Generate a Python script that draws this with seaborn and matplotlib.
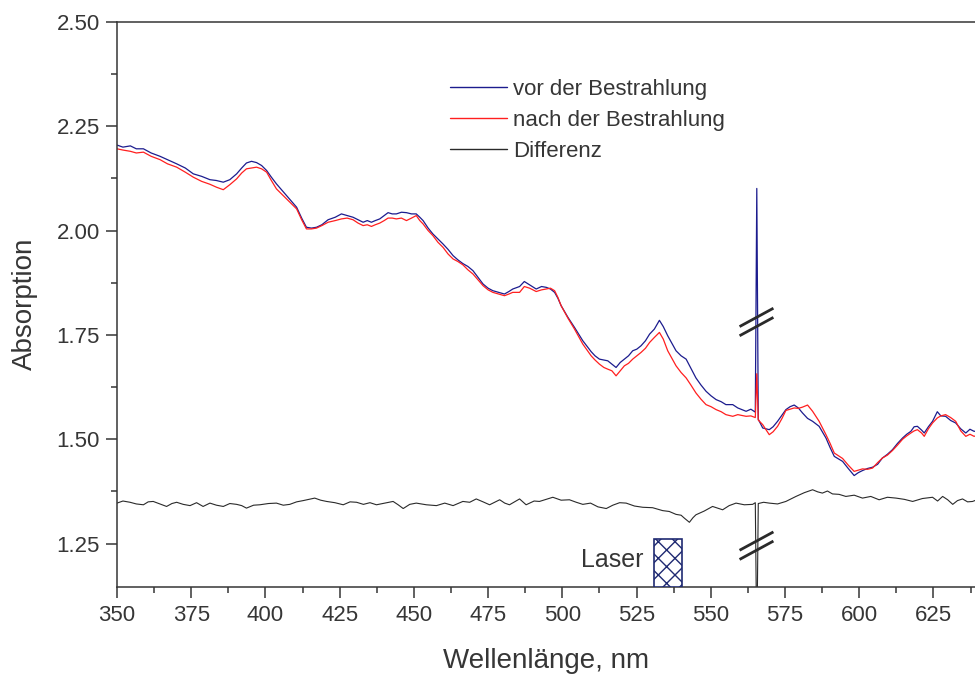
import numpy as np
import pandas as pd
import matplotlib
matplotlib.use("Agg")
import matplotlib.pyplot as plt
import seaborn as sns
from matplotlib.ticker import MultipleLocator, FormatStrFormatter

# ---------------- data ----------------
wavelength = [
    350.0, 352.0, 354.5, 356.5, 358.9, 361.5, 364.5, 367.0, 370.1, 373.0,
    375.7, 378.5, 381.3, 383.5, 385.8, 388.0, 390.3, 392.0, 393.6, 395.3,
    397.0, 398.7, 400.4, 402.0, 403.7, 405.4, 407.1, 408.8, 410.5, 412.2,
    413.8, 415.5, 417.2, 419.0, 421.1, 423.5, 425.6, 427.5, 429.5, 431.2,
    432.9, 434.3, 435.7, 437.0, 438.5, 440.0, 441.3, 442.7, 444.1, 445.8,
    447.5, 449.2, 450.8, 452.0, 453.1, 454.8, 456.4, 458.1, 459.8, 461.5,
    463.2, 464.8, 466.5, 468.2, 469.9, 471.6, 473.3, 475.0, 476.6, 478.5,
    480.5, 482.0, 483.3, 485.6, 487.2, 489.0, 491.2, 493.0, 494.6, 496.0,
    497.4, 498.5, 499.6, 501.9, 504.1, 506.9, 509.7, 511.0, 512.5, 514.0,
    515.3, 516.7, 518.1, 519.5, 520.9, 522.3, 523.7, 525.1, 526.5, 528.0,
    529.4, 531.0, 532.7, 534.0, 535.5, 536.9, 538.3, 540.0, 541.7, 543.3,
    545.0, 546.7, 548.4, 550.1, 551.8, 553.5, 555.1, 557.4, 559.1, 561.9,
    563.5, 565.0, 565.5, 566.0, 567.5, 569.7, 571.0, 572.5, 574.0, 575.3,
    576.7, 578.1, 579.5, 580.9, 582.6, 584.3, 586.5, 588.8, 590.2, 591.6,
    594.4, 596.3, 598.3, 599.7, 601.1, 602.8, 604.5, 606.2, 607.8, 609.5,
    611.2, 612.9, 614.6, 616.0, 617.4, 618.5, 619.6, 621.0, 621.9, 623.3,
    624.7, 626.3, 627.5, 629.1, 630.8, 632.5, 634.2, 635.9, 637.3, 638.7,
    640.0,
]
vor_bestrahlung = [
    2.205, 2.200, 2.203, 2.196, 2.196, 2.186, 2.178, 2.170, 2.160, 2.150,
    2.136, 2.130, 2.122, 2.120, 2.116, 2.122, 2.136, 2.150, 2.162, 2.166,
    2.163, 2.156, 2.144, 2.128, 2.112, 2.098, 2.084, 2.070, 2.056, 2.030,
    2.008, 2.006, 2.008, 2.014, 2.026, 2.032, 2.040, 2.036, 2.032, 2.026,
    2.020, 2.024, 2.020, 2.024, 2.028, 2.036, 2.043, 2.040, 2.040, 2.044,
    2.043, 2.040, 2.040, 2.032, 2.024, 2.006, 1.992, 1.980, 1.968, 1.955,
    1.940, 1.930, 1.921, 1.914, 1.904, 1.888, 1.872, 1.862, 1.856, 1.852,
    1.848, 1.854, 1.860, 1.866, 1.878, 1.870, 1.860, 1.866, 1.864, 1.860,
    1.852, 1.838, 1.820, 1.792, 1.768, 1.736, 1.710, 1.700, 1.692, 1.690,
    1.688, 1.680, 1.672, 1.684, 1.692, 1.700, 1.712, 1.716, 1.724, 1.736,
    1.752, 1.764, 1.785, 1.770, 1.748, 1.730, 1.712, 1.700, 1.692, 1.670,
    1.647, 1.630, 1.615, 1.604, 1.595, 1.590, 1.583, 1.583, 1.575, 1.567,
    1.572, 1.565, 2.101, 1.548, 1.527, 1.523, 1.530, 1.543, 1.558, 1.571,
    1.578, 1.582, 1.575, 1.563, 1.550, 1.543, 1.531, 1.503, 1.480, 1.459,
    1.447, 1.430, 1.413, 1.420, 1.425, 1.430, 1.433, 1.440, 1.455, 1.464,
    1.475, 1.490, 1.503, 1.512, 1.519, 1.530, 1.531, 1.522, 1.515, 1.530,
    1.543, 1.566, 1.556, 1.555, 1.545, 1.539, 1.525, 1.515, 1.524, 1.519,
    1.520,
]
nach_bestrahlung = [
    2.196, 2.193, 2.190, 2.186, 2.188, 2.178, 2.170, 2.160, 2.152, 2.140,
    2.128, 2.118, 2.111, 2.104, 2.098, 2.110, 2.124, 2.138, 2.148, 2.150,
    2.152, 2.148, 2.140, 2.120, 2.100, 2.088, 2.076, 2.064, 2.052, 2.026,
    2.004, 2.004, 2.006, 2.012, 2.020, 2.024, 2.028, 2.030, 2.026, 2.018,
    2.012, 2.014, 2.010, 2.014, 2.018, 2.024, 2.030, 2.030, 2.028, 2.030,
    2.024, 2.030, 2.036, 2.024, 2.016, 2.000, 1.988, 1.972, 1.960, 1.944,
    1.932, 1.926, 1.918, 1.906, 1.896, 1.882, 1.868, 1.858, 1.852, 1.848,
    1.844, 1.848, 1.852, 1.852, 1.866, 1.862, 1.854, 1.858, 1.860, 1.862,
    1.856, 1.840, 1.820, 1.790, 1.764, 1.728, 1.700, 1.690, 1.680, 1.672,
    1.668, 1.664, 1.652, 1.664, 1.676, 1.682, 1.692, 1.700, 1.708, 1.718,
    1.732, 1.744, 1.756, 1.740, 1.712, 1.694, 1.676, 1.660, 1.647, 1.630,
    1.611, 1.596, 1.583, 1.578, 1.571, 1.566, 1.559, 1.555, 1.559, 1.555,
    1.556, 1.552, 1.657, 1.546, 1.535, 1.511, 1.518, 1.531, 1.550, 1.569,
    1.572, 1.575, 1.574, 1.577, 1.582, 1.567, 1.543, 1.511, 1.490, 1.467,
    1.454, 1.438, 1.423, 1.426, 1.429, 1.428, 1.431, 1.444, 1.455, 1.462,
    1.473, 1.486, 1.500, 1.508, 1.515, 1.520, 1.523, 1.515, 1.507, 1.525,
    1.539, 1.551, 1.556, 1.559, 1.552, 1.543, 1.520, 1.507, 1.512, 1.507,
    1.510,
]

diff_wavelength = [
    350.0, 352.0, 354.4, 356.5, 358.9, 360.5, 362.2, 364.5, 366.7, 368.5,
    370.1, 372.3, 374.6, 376.8, 379.0, 381.3, 383.5, 385.8, 388.0, 390.3,
    392.0, 393.6, 396.0, 398.1, 401.0, 403.7, 406.0, 408.2, 410.5, 412.7,
    414.6, 416.6, 418.6, 420.6, 423.4, 426.2, 428.5, 430.7, 433.0, 435.2,
    437.4, 440.2, 443.0, 444.7, 446.4, 448.6, 450.8, 454.2, 457.6, 460.4,
    463.2, 466.5, 468.8, 471.0, 473.3, 475.5, 478.9, 480.6, 482.2, 485.6,
    487.8, 489.0, 490.5, 492.3, 494.5, 496.8, 499.6, 502.4, 504.7, 506.9,
    509.5, 512.0, 514.8, 517.0, 519.3, 521.5, 524.3, 527.1, 530.4, 533.8,
    536.0, 538.3, 540.0, 541.1, 542.8, 544.0, 545.0, 547.8, 550.6, 552.3,
    554.0, 556.2, 558.5, 561.3, 564.1, 565.0, 565.5, 566.0, 567.8, 569.7,
    572.5, 575.3, 577.0, 578.7, 581.5, 584.3, 586.0, 587.6, 589.3, 591.0,
    593.2, 595.5, 598.3, 601.1, 603.9, 606.7, 609.5, 612.4, 615.2, 618.0,
    621.3, 624.7, 626.4, 628.1, 629.8, 631.5, 633.1, 634.8, 636.5, 638.2,
    640.0,
]
differenz = [
    1.347, 1.352, 1.349, 1.345, 1.343, 1.350, 1.351, 1.345, 1.339, 1.346,
    1.349, 1.344, 1.341, 1.348, 1.339, 1.347, 1.342, 1.339, 1.346, 1.344,
    1.341, 1.335, 1.342, 1.343, 1.346, 1.347, 1.342, 1.344, 1.350, 1.353,
    1.356, 1.359, 1.354, 1.351, 1.348, 1.343, 1.350, 1.349, 1.344, 1.348,
    1.343, 1.347, 1.351, 1.343, 1.334, 1.344, 1.347, 1.343, 1.341, 1.347,
    1.341, 1.351, 1.349, 1.357, 1.350, 1.343, 1.355, 1.347, 1.343, 1.357,
    1.343, 1.347, 1.352, 1.351, 1.356, 1.361, 1.354, 1.355, 1.349, 1.344,
    1.347, 1.338, 1.334, 1.342, 1.348, 1.347, 1.340, 1.337, 1.336, 1.329,
    1.327, 1.320, 1.318, 1.311, 1.301, 1.312, 1.319, 1.328, 1.339, 1.335,
    1.331, 1.341, 1.347, 1.343, 1.344, 1.348, 1.000, 1.346, 1.349, 1.347,
    1.345, 1.351, 1.357, 1.363, 1.372, 1.379, 1.374, 1.371, 1.376, 1.369,
    1.368, 1.363, 1.366, 1.359, 1.363, 1.355, 1.361, 1.359, 1.356, 1.351,
    1.358, 1.361, 1.352, 1.363, 1.355, 1.344, 1.353, 1.357, 1.350, 1.351,
    1.356,
]

laser_band = [531.0, 540.2]       # nm
laser_top = 1.262
spike_position = 565.5
break_levels = [1.781, 1.245]

labels = ["vor der Bestrahlung", "nach der Bestrahlung", "Differenz"]
x_ticks = [350, 375, 400, 425, 450, 475, 500, 525, 550, 575, 600, 625]
y_ticks = [1.25, 1.50, 1.75, 2.00, 2.25, 2.50]

# ---------------- style ----------------
sns.set_style("ticks")
plt.rcParams["font.family"] = ["Liberation Sans", "DejaVu Sans"]
text_col = "#363636"
plt.rcParams.update({
    "axes.edgecolor": text_col, "xtick.color": text_col, "ytick.color": text_col,
    "axes.labelcolor": text_col, "text.color": text_col, "axes.linewidth": 1.1,
    "hatch.color": "#1f2a72", "hatch.linewidth": 1.0,
})

fig = plt.figure(figsize=(9.75, 6.75), dpi=100)
ax = fig.add_axes([0.12, 0.131, 0.88, 0.8365])

c_vor = "#1c1c8e"
c_nach = "#ff1f1f"
c_diff = "#2a2a2a"

df_spec = pd.DataFrame({"wl": wavelength, "vor": vor_bestrahlung, "nach": nach_bestrahlung})
df_diff = pd.DataFrame({"wl": diff_wavelength, "diff": differenz})

sns.lineplot(data=df_spec, x="wl", y="vor", ax=ax, color=c_vor, lw=0.9,
             label=labels[0], estimator=None, sort=False)
sns.lineplot(data=df_spec, x="wl", y="nach", ax=ax, color=c_nach, lw=0.9,
             label=labels[1], estimator=None, sort=False)
sns.lineplot(data=df_diff, x="wl", y="diff", ax=ax, color=c_diff, lw=0.8,
             label=labels[2], estimator=None, sort=False)

ylo = 1.147
# laser band
ax.bar([(laser_band[0] + laser_band[1]) / 2], [laser_top - ylo], bottom=ylo,
       width=laser_band[1] - laser_band[0], facecolor="white",
       edgecolor="#1f2a72", hatch="xx", linewidth=1.2, zorder=3)
ax.text(laser_band[0] - 3.5, 1.21, "Laser", fontsize=18, ha="right", va="center")

# break markers "//"
for yb in break_levels:
    for off in (0.011, -0.011):
        ax.plot([spike_position - 5.8, spike_position + 5.6],
                [yb + off - 0.022, yb + off + 0.022],
                color=c_diff, lw=2.0, solid_capstyle="butt", zorder=4)

ax.set_xlim(350, 639)
ax.set_ylim(ylo, 2.5)
ax.set_xticks(x_ticks)
ax.set_yticks(y_ticks)
ax.yaxis.set_major_formatter(FormatStrFormatter("%.2f"))
ax.xaxis.set_minor_locator(MultipleLocator(12.5))
ax.yaxis.set_minor_locator(MultipleLocator(0.125))
ax.tick_params(which="major", direction="out", length=8, width=1.1, labelsize=16, pad=4.5)
ax.tick_params(which="minor", direction="out", length=4, width=1.1)
ax.tick_params(axis="x", which="major", pad=5)

ax.spines["right"].set_visible(False)
ax.spines["top"].set_visible(True)

ax.set_xlabel("Wellenlänge, nm", fontsize=20, labelpad=16)
ax.set_ylabel("Absorption", fontsize=20, labelpad=13)

leg = ax.legend(loc="upper left", bbox_to_anchor=(0.388, 0.899), frameon=False,
                fontsize=16, handlelength=2.55, handletextpad=0.28, labelspacing=0.44,
                borderpad=0, borderaxespad=0)
for h in leg.get_lines():
    h.set_linewidth(1.0)

fig.savefig("out.png", dpi=100)
